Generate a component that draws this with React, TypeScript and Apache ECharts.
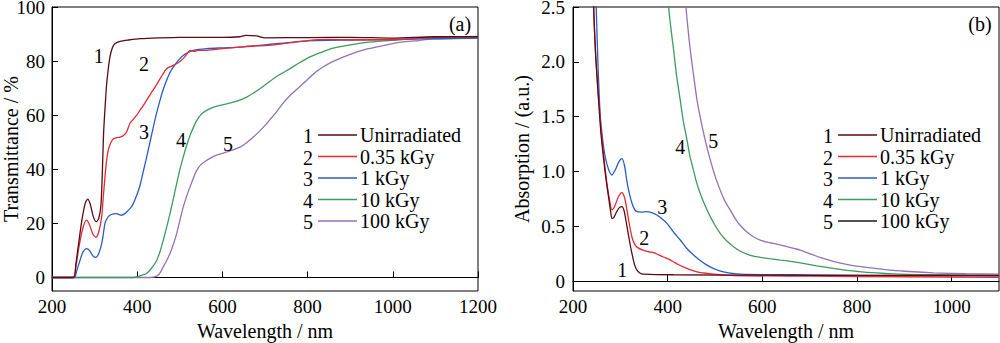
import React, { useEffect, useRef } from "react";
import * as echarts from "echarts";

const FONT = "Liberation Serif";

// Panel (a): transmittance (%) vs wavelength (nm)
const tUnirr = [[200,0],[250,0],[256,5],[262,12],[270,21],[278,27.5],[284,29],[290,27],[297,22.5],[304,20.6],[310,22],[315,27],[318,38],[321,53],[325,64],[328,71],[332,77],[336,81.5],[342,85],[348,86.5],[360,87.3],[380,87.8],[407,88.3],[450,88.6],[500,88.8],[600,88.8],[640,89],[655,89.5],[680,89.3],[700,88.6],[800,88.7],[900,88.8],[1000,88.5],[1100,89],[1200,89]];
const t035 = [[200,0],[250,0],[256,4],[263,11],[272,18],[281,21.2],[288,19.5],[296,16],[303,14.8],[310,17],[316.6,22.4],[320,29],[324.3,37.1],[328,43],[332,47],[338,49.8],[344,51.3],[352,51.7],[359.6,51.9],[368,52.5],[375,53.8],[383,57],[391,58.5],[398.8,60],[406.6,61.8],[414,63.5],[422,65.5],[432,68],[441.8,70.4],[455,73.8],[469,77.2],[484.7,78.4],[497,79.5],[508,80.9],[516,82.5],[524,84],[534,83.6],[543,84],[563,84],[600,84.6],[641,85.2],[680,85.6],[700,85.7],[720,86],[760,86.8],[800,87.6],[850,88],[900,87.9],[1000,87.9],[1100,88.9],[1200,89]];
const t1 = [[200,0],[252,0],[258,2.5],[265,6],[273,9.5],[281.4,10.7],[288,10],[296,8],[303,7.4],[310,9],[316.6,12.5],[320,15.5],[324.3,20],[330,22],[336,23],[344,23.5],[351.7,23.6],[358,23.2],[363.3,23],[371,23.6],[379,24.8],[385,25.8],[390.8,27.3],[398,30],[406.6,34],[414,39],[422.2,44.5],[430,50],[437.8,55.6],[445,60.5],[453.5,65.5],[461,69.5],[469,72.9],[476,75.5],[484.7,77.8],[496,80.2],[508,82.1],[520,83.2],[531.7,84],[563,84.6],[600,84.9],[641,85.2],[700,86],[800,87.5],[900,87.8],[1000,88],[1100,88.3],[1200,88.5]];
const t10 = [[200,0],[390,0],[399,0.3],[410,0.8],[422,1.5],[434,3.5],[446,6.4],[454,9.8],[461.3,13.8],[469,18.5],[477,23.6],[485,29.2],[492.6,34.7],[500,39.8],[508,44.5],[516,48.8],[524,52.5],[532,55.5],[539.7,58],[550,60.3],[563,61.8],[578,62.9],[594,63.6],[610,64.2],[625.6,64.8],[641,65.6],[657,66.7],[672,68.1],[688,69.8],[704,71.6],[719.6,73.5],[740,75.5],[758.7,77.2],[780,79.3],[800,81.1],[830,83.1],[860,84.8],[900,86],[938,86.9],[980,87.5],[1016,87.9],[1060,88.4],[1100,88.8],[1150,89],[1200,89.1]];
const t100 = [[200,0],[430,0],[446,0.5],[454,1.8],[461,3.9],[469,6.2],[477,8.9],[485,12.3],[492.6,16.2],[500,21],[508,26],[516,30],[524,33.5],[532,36.8],[539.7,39.6],[550,41.8],[563,43.3],[575,44.4],[586.5,45.2],[598,45.8],[610,46.4],[625,47.2],[641,48.2],[657,49.8],[672.6,51.9],[688,54.2],[704,56.9],[720,59.9],[735.4,63],[747,65.3],[758.7,67.3],[782,70.6],[800,73.2],[821,76.2],[840,78.2],[860,79.9],[900,82.5],[938,84.4],[980,85.8],[1016,86.9],[1060,87.6],[1094,88.1],[1150,88.3],[1200,88.5]];

// Panel (b): absorption (a.u.) vs wavelength (nm)
const aUnirr = [[241,2.9],[244,2.45],[248,2.05],[254,1.65],[259,1.35],[265,1.1],[270,0.92],[275,0.77],[279,0.65],[282.3,0.573],[286,0.58],[292,0.63],[298,0.67],[303.5,0.68],[308,0.64],[314,0.5],[320,0.35],[324.6,0.25],[330,0.15],[335,0.1],[342,0.072],[349,0.064],[412,0.058],[600,0.054],[800,0.052],[1100,0.052]];
const a035 = [[241,2.9],[244,2.45],[248,2.05],[254,1.68],[260,1.35],[266,1.1],[272,0.88],[278,0.72],[282.3,0.65],[288,0.68],[296,0.77],[303.5,0.807],[309,0.76],[314,0.65],[319,0.52],[324.6,0.4],[330,0.34],[335,0.31],[349,0.28],[360,0.268],[370,0.26],[380,0.242],[391,0.22],[402,0.2],[412,0.177],[422,0.152],[433,0.13],[447,0.105],[462,0.085],[480,0.072],[497,0.064],[540,0.05],[700,0.045],[900,0.04],[1100,0.035]];
const a1 = [[246,2.9],[249,2.5],[253,1.95],[257.7,1.5],[263,1.28],[268,1.136],[275,1.02],[282.3,0.968],[290,1.02],[297,1.09],[303.5,1.117],[309,1.05],[314,0.907],[319,0.8],[324.6,0.71],[330,0.655],[335,0.634],[345,0.63],[356,0.634],[366,0.625],[377,0.603],[388,0.57],[398.5,0.527],[412,0.45],[426.6,0.375],[440,0.3],[454.7,0.238],[468,0.19],[483,0.146],[500,0.11],[518,0.085],[553,0.064],[700,0.057],[900,0.05],[1100,0.045]];
const a10 = [[398,2.75],[402,2.5],[407,2.3],[412.5,2.11],[419,1.87],[426.6,1.65],[433,1.46],[440.7,1.29],[447,1.14],[454.7,1.01],[461,0.9],[468.8,0.8],[479,0.69],[490,0.588],[500,0.51],[511,0.436],[524,0.37],[539,0.314],[553,0.275],[567.5,0.247],[581,0.228],[595.6,0.217],[615,0.205],[638,0.192],[660,0.18],[680,0.167],[715,0.14],[750,0.116],[785,0.095],[821,0.08],[891,0.064],[1000,0.057],[1100,0.052]];
const a100 = [[434,2.75],[438.6,2.5],[443,2.3],[447.7,2.11],[455,1.87],[462,1.65],[469,1.49],[475.9,1.35],[483,1.22],[490,1.106],[500,0.96],[511,0.83],[521,0.73],[532,0.65],[542,0.575],[553,0.51],[567,0.45],[581,0.405],[598,0.37],[616.7,0.35],[635,0.332],[652,0.314],[667,0.298],[680,0.283],[700,0.25],[722,0.216],[750,0.18],[786,0.146],[820,0.125],[856,0.107],[900,0.09],[962,0.076],[1030,0.068],[1100,0.064]];

const seriesNames = ["Unirradiated", "0.35 kGy", "1 kGy", "10 kGy", "100 kGy"];
const seriesNums = ["1", "2", "3", "4", "5"];
const colors = ["#5a0c14", "#e52a36", "#2a5cc6", "#3f9a5e", "#9272b8"];
const legendColorsB = ["#5a0c14", "#e52a36", "#2a5cc6", "#3f9a5e", "#1a1a1a"];

const xTicksA = [200, 400, 600, 800, 1000, 1200];
const yTicksA = [0, 20, 40, 60, 80, 100];
const xTicksB = [200, 400, 600, 800, 1000];
const yTicksB = [0, 0.5, 1.0, 1.5, 2.0, 2.5];

// curve number annotations (data coordinates)
const labelPosA = [[310, 82], [416, 79], [416, 53.7], [503, 50.7], [613, 49.2]];
const labelPosB = [[304, 0.1], [350.6, 0.39], [388.6, 0.68], [426.6, 1.225], [496.5, 1.28]];

const dataA = [tUnirr, t035, t1, t10, t100];
const dataB = [aUnirr, a035, a1, a10, a100];

export default function App() {
  const ref = useRef<HTMLDivElement>(null);
  useEffect(() => {
    document.body.style.margin = "0";
    const chart = echarts.init(ref.current!, null, { renderer: "svg" });
    const axisCommon = {
      type: "value" as const,
      axisLine: { show: true, lineStyle: { color: "#000", width: 1 } },
      axisTick: { show: true, inside: true, length: 6, lineStyle: { color: "#000" } },
      splitLine: { show: false },
      nameLocation: "middle" as const,
      nameMoveOverlap: false,
      nameTextStyle: { color: "#000", fontSize: 20, fontFamily: FONT },
    };
    const labelCommon = { color: "#000", fontSize: 19, fontFamily: FONT };
    const plain = (v: number) => String(v);
    const gridCommon = {
      top: 7, width: 426, height: 284, show: true, borderColor: "#000", borderWidth: 1,
      containLabel: false, outerBoundsMode: "none",
    };
    const option: any = {
      animation: false,
      textStyle: { fontFamily: FONT },
      grid: [
        { ...gridCommon, left: 52 },
        { ...gridCommon, left: 573 },
      ],
      xAxis: [
        {
          ...axisCommon, gridIndex: 0, min: 200, max: 1200,
          axisLabel: { ...labelCommon, margin: 6, customValues: xTicksA, formatter: plain },
          axisTick: { ...axisCommon.axisTick, customValues: xTicksA },
          name: "Wavelength / nm", nameGap: 30,
        },
        {
          ...axisCommon, gridIndex: 1, min: 200, max: 1100,
          axisLabel: { ...labelCommon, margin: 6, customValues: xTicksB, formatter: plain },
          axisTick: { ...axisCommon.axisTick, customValues: xTicksB },
          name: "Wavelength / nm", nameGap: 30,
        },
      ],
      yAxis: [
        {
          ...axisCommon, gridIndex: 0, min: -5, max: 100,
          axisLabel: { ...labelCommon, margin: 7, customValues: yTicksA, formatter: plain },
          axisTick: { ...axisCommon.axisTick, customValues: yTicksA },
          name: "Transmittance / %", nameGap: 31,
        },
        {
          ...axisCommon, gridIndex: 1, min: -0.09, max: 2.5,
          axisLabel: {
            ...labelCommon, margin: 8, customValues: yTicksB,
            formatter: (v: number) => (v === 0 ? "0" : v.toFixed(1)),
          },
          axisTick: { ...axisCommon.axisTick, customValues: yTicksB },
          name: "Absorption / (a.u.)", nameGap: 41,
        },
      ],
      series: [
        ...dataA.map((d, i) => ({
          type: "line", name: seriesNames[i], xAxisIndex: 0, yAxisIndex: 0, data: d,
          showSymbol: false, smooth: 0.25, clip: true,
          lineStyle: { color: colors[i], width: 1.3 }, z: 10 - i,
        })),
        ...dataB.map((d, i) => ({
          type: "line", name: seriesNames[i], xAxisIndex: 1, yAxisIndex: 1, data: d,
          showSymbol: false, smooth: 0.25, clip: true,
          lineStyle: { color: colors[i], width: 1.3 }, z: 10 - i,
        })),
      ],
    };
    chart.setOption(option);

    const graphics: any[] = [];
    const textEl = (text: string, x: number, y: number, align = "center") => ({
      type: "text", x, y,
      style: { text, fill: "#000", fontSize: 20, fontFamily: FONT, align, verticalAlign: "middle" },
      z: 100,
    });
    // panel tags
    graphics.push(textEl("(a)", 460, 24));
    graphics.push(textEl("(b)", 980, 24));
    // legends
    const legendRows = [135, 156.5, 178, 199.5, 221];
    [0, 520].forEach((dx, p) => {
      legendRows.forEach((y, i) => {
        graphics.push(textEl(seriesNums[i], 313 + dx, y + 1, "right"));
        graphics.push({
          type: "line", shape: { x1: 318 + dx, y1: y, x2: 357 + dx, y2: y },
          style: { stroke: p === 0 ? colors[i] : legendColorsB[i], lineWidth: 1.3 }, z: 100,
        });
        graphics.push(textEl(seriesNames[i], 360 + dx, y, "left"));
      });
    });
    // curve numbers
    labelPosA.forEach((c, i) => {
      const [px, py] = chart.convertToPixel({ gridIndex: 0 }, c) as number[];
      graphics.push(textEl(seriesNums[i], px, py));
    });
    labelPosB.forEach((c, i) => {
      const [px, py] = chart.convertToPixel({ gridIndex: 1 }, c) as number[];
      graphics.push(textEl(seriesNums[i], px, py));
    });
    chart.setOption({ graphic: graphics });

    return () => chart.dispose();
  }, []);
  return <div ref={ref} style={{ width: 1000, height: 343 }} />;
}
